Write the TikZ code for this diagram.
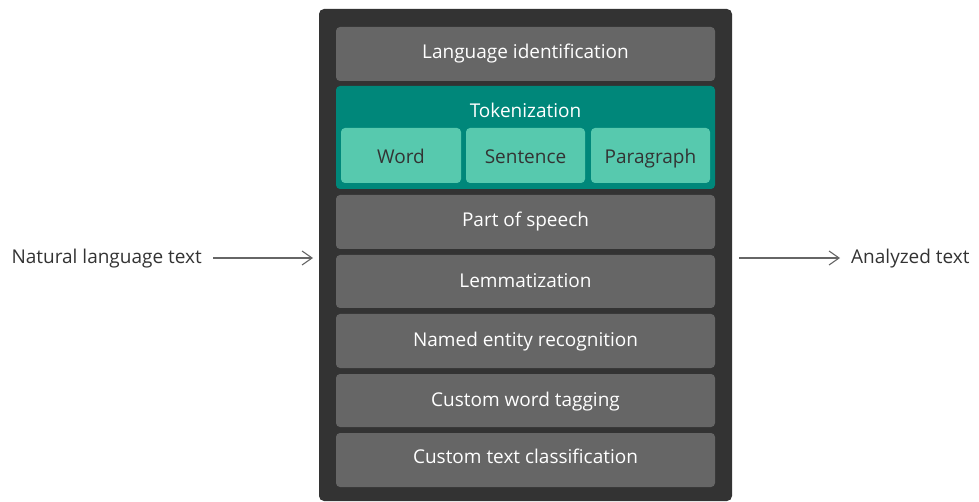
\documentclass[tikz,border=0pt]{standalone}
\usepackage{fontspec}
\setmainfont{Open Sans}
\usetikzlibrary{arrows.meta}
\definecolor{outerbg}{HTML}{333333}
\definecolor{boxgray}{HTML}{666666}
\definecolor{teal1}{HTML}{00877A}
\definecolor{teal2}{HTML}{57C9AE}
\definecolor{lbl}{HTML}{333333}
\definecolor{arr}{HTML}{666666}
\tikzset{
  txt/.style={inner sep=0pt, text height=13.6pt, text depth=0pt, font=\fontsize{19}{22}\selectfont},
  stage/.style={txt, text=white},
  sub/.style={txt, text=lbl},
  side/.style={txt, text=lbl},
  flow/.style={draw=arr, line width=1.1pt, -{Straight Barb[length=10pt,width=14pt,line width=1.1pt]}}
}
\begin{document}
\begin{tikzpicture}[x=1pt,y=-1pt]
\useasboundingbox (0,0) rectangle (979,502);
\fill[outerbg, rounded corners=5pt] (319,9) rectangle (732,501);
% stages
\fill[boxgray, rounded corners=4pt] (336,27) rectangle (715,81);
\node[stage] (lang) at (525.5,52) {Language identification};
\fill[teal1, rounded corners=4pt] (336,86) rectangle (715,189);
\node[stage] (tok) at (525.5,111) {Tokenization};
\fill[teal2, rounded corners=4pt] (341,128) rectangle (461,183);
\node[sub] (word) at (401,157) {Word};
\fill[teal2, rounded corners=4pt] (466,128) rectangle (585,183);
\node[sub] (sent) at (525.5,157) {Sentence};
\fill[teal2, rounded corners=4pt] (591,128) rectangle (710,183);
\node[sub] (para) at (650.5,157) {Paragraph};
\fill[boxgray, rounded corners=4pt] (336,195) rectangle (715,249);
\node[stage] (pos) at (525.5,220) {Part of speech};
\fill[boxgray, rounded corners=4pt] (336,255) rectangle (715,308);
\node[stage] (lem) at (525.5,281) {Lemmatization};
\fill[boxgray, rounded corners=4pt] (336,314) rectangle (715,368);
\node[stage] (ner) at (525.5,340) {Named entity recognition};
\fill[boxgray, rounded corners=4pt] (336,374) rectangle (715,427);
\node[stage] (cwt) at (525.5,400) {Custom word tagging};
\fill[boxgray, rounded corners=4pt] (336,433) rectangle (715,487);
\node[stage] (ctc) at (525.5,457) {Custom text classification};
% sides
\node[side, anchor=east] (in) at (202,257) {Natural language text};
\node[side, anchor=west] (out) at (851,257) {Analyzed text};
\coordinate (inS) at (213,258);
\coordinate (inE) at (313,258);
\coordinate (outS) at (739,258);
\coordinate (outE) at (840,258);
\draw[flow] (inS) -- (inE);
\draw[flow] (outS) -- (outE);
\end{tikzpicture}
\end{document}
